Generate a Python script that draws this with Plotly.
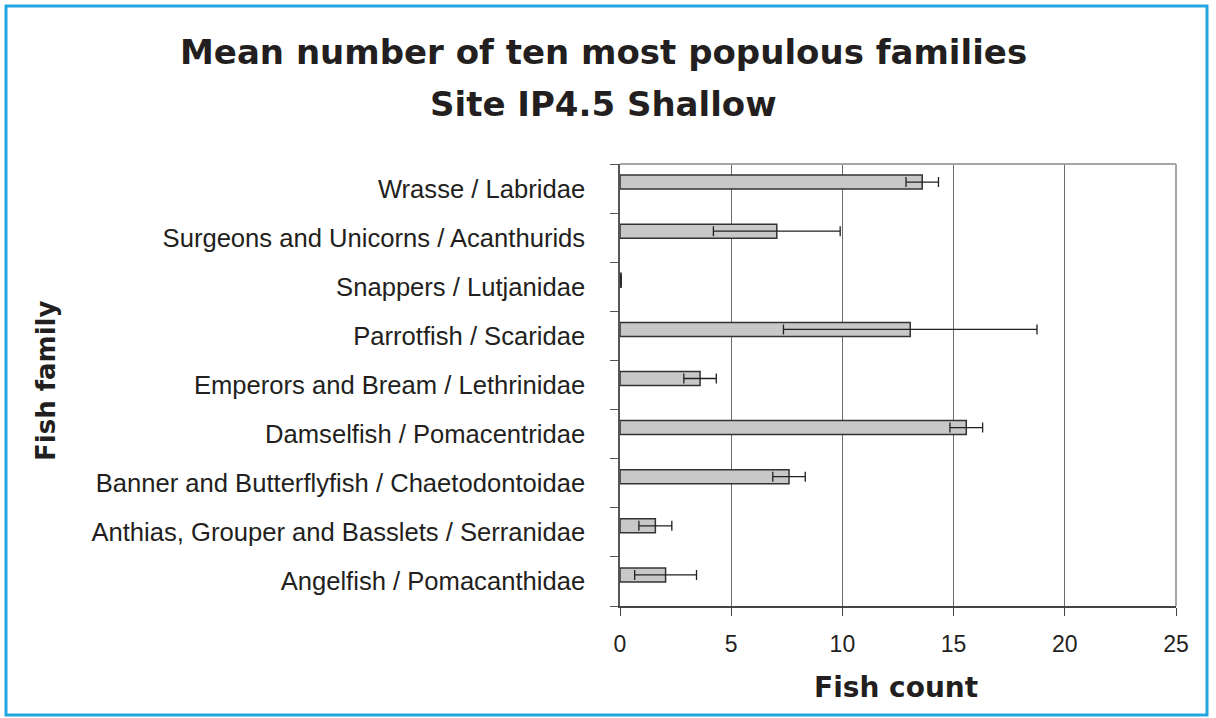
import plotly.graph_objects as go

categories = [
    "Angelfish / Pomacanthidae",
    "Anthias, Grouper and Basslets / Serranidae",
    "Banner and Butterflyfish / Chaetodontoidae",
    "Damselfish / Pomacentridae",
    "Emperors and Bream / Lethrinidae",
    "Parrotfish / Scaridae",
    "Snappers / Lutjanidae",
    "Surgeons and Unicorns / Acanthurids",
    "Wrasse / Labridae",
]
mean_count = [2.05, 1.59, 7.6, 15.57, 3.6, 13.05, 0.05, 7.05, 13.59]
error_vals = [1.39, 0.74, 0.73, 0.735, 0.73, 5.7, 0.0, 2.85, 0.73]
x_ticks = [0, 5, 10, 15, 20, 25]
title_lines = ["Mean number of ten most populous families", "Site IP4.5 Shallow"]

W, H = 1216, 718
L, R, T, B = 620, 40, 164, 112
pw, ph = W - L - R, H - T - B

def px_x(p):
    return (p - L) / pw

def px_y(p):
    return (H - B - p) / ph

txt = "#231f20"
sans = "Liberation Sans, Arial, sans-serif"
bold = "DejaVu Sans, Liberation Sans, sans-serif"

fig = go.Figure()
fig.add_trace(go.Bar(
    y=categories, x=mean_count, orientation="h",
    width=0.285, offset=-0.01,
    marker=dict(color="#c8c8c8", line=dict(color="#333333", width=1.5)),
    error_x=dict(type="data", array=error_vals, visible=True,
                 color="#231f20", thickness=1.3, width=5),
    showlegend=False,
))

fig.update_layout(
    width=W, height=H,
    margin=dict(l=L, r=R, t=T, b=B, autoexpand=False),
    paper_bgcolor="white", plot_bgcolor="white",
    font=dict(family=sans, color=txt, size=24),
    xaxis=dict(
        range=[0, 25], tickvals=x_ticks, showgrid=True, gridcolor="#6b6b6b",
        gridwidth=1.2, showline=True, linecolor="#444444", linewidth=1.5,
        ticks="outside", ticklen=8, tickcolor="#444444", tickwidth=1.2,
        tickfont=dict(size=23, family=sans, color=txt), zeroline=False,
        ticklabelstandoff=9, fixedrange=True,
    ),
    yaxis=dict(
        type="category", categoryorder="array", categoryarray=categories,
        range=[-0.5, 8.5], showgrid=False, showline=True, linecolor="#555555",
        linewidth=1.5, ticks="outside", ticklen=8, tickcolor="#555555",
        tickson="boundaries", tickfont=dict(size=25.6, family=sans, color=txt),
        ticklabelstandoff=28, fixedrange=True,
    ),
)

# plot-area top/right border (light gray)
fig.add_shape(type="line", xref="paper", yref="paper", x0=0, x1=1, y0=1, y1=1,
              line=dict(color="#a6a6a6", width=2))
fig.add_shape(type="line", xref="paper", yref="paper", x0=1, x1=1, y0=0, y1=1,
              line=dict(color="#a6a6a6", width=2))
# outer blue frame
fig.add_shape(type="rect", xref="paper", yref="paper",
              x0=px_x(6), x1=px_x(1207), y0=px_y(715), y1=px_y(6),
              line=dict(color="#22a6e2", width=3), layer="below")

# title (two lines)
fig.add_annotation(text="<b>%s</b>" % title_lines[0], xref="paper", yref="paper",
                   x=px_x(603), y=px_y(52), xanchor="center", yanchor="middle",
                   showarrow=False, font=dict(size=34, color=txt, family=bold))
fig.add_annotation(text="<b>%s</b>" % title_lines[1], xref="paper", yref="paper",
                   x=px_x(603), y=px_y(104), xanchor="center", yanchor="middle",
                   showarrow=False, font=dict(size=34, color=txt, family=bold))
# axis titles
fig.add_annotation(text="<b>Fish count</b>", xref="paper", yref="paper",
                   x=px_x(896), y=px_y(687), xanchor="center", yanchor="middle",
                   showarrow=False, font=dict(size=28, color=txt, family=bold))
fig.add_annotation(text="<b>Fish family</b>", xref="paper", yref="paper",
                   x=px_x(46), y=px_y(381), xanchor="center", yanchor="middle",
                   textangle=-90, showarrow=False,
                   font=dict(size=26, color=txt, family=bold))

fig.write_html("out.html", config={"displayModeBar": False},
               post_script="document.body.style.margin='0';")
